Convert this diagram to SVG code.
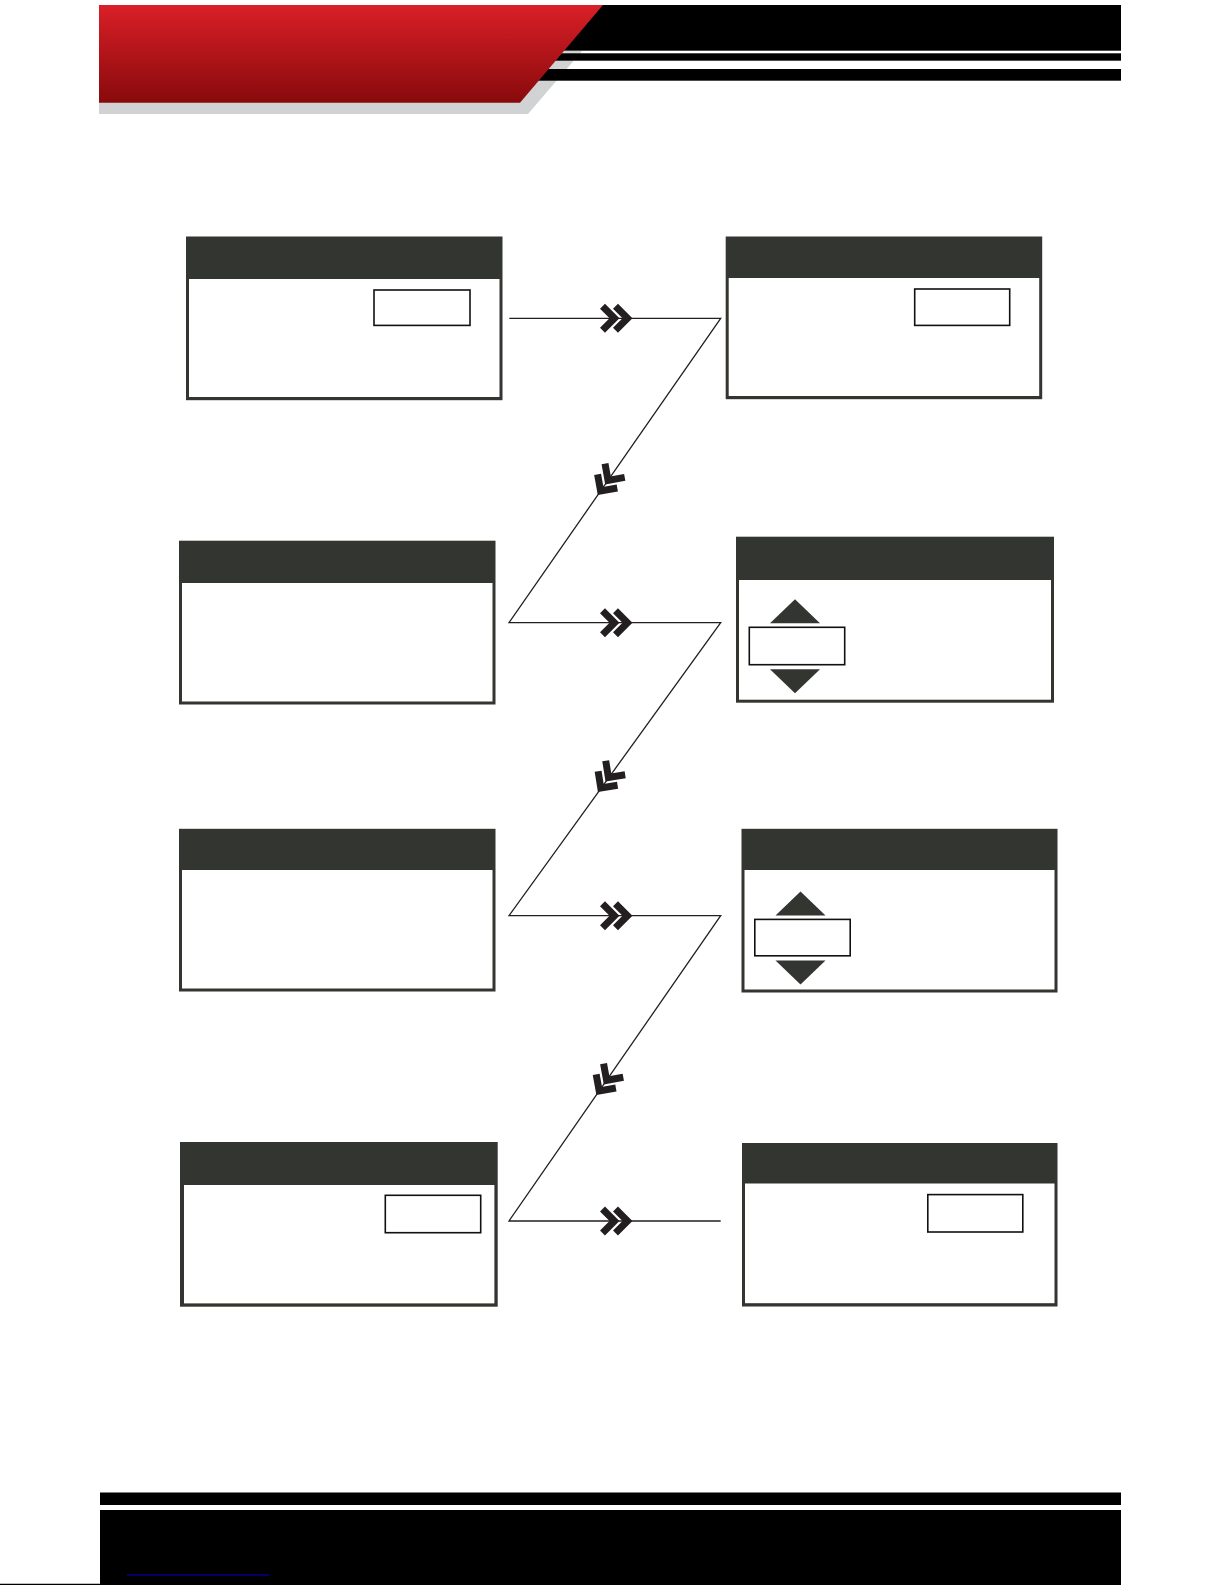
<svg xmlns="http://www.w3.org/2000/svg" xmlns:xlink="http://www.w3.org/1999/xlink" width="1225" height="1585" viewBox="0 0 1225 1585">
<defs>
<linearGradient id="redGrad" x1="0" y1="0" x2="0" y2="1">
<stop offset="0" stop-color="#da1f27"/>
<stop offset="1" stop-color="#880a0c"/>
</linearGradient>
<path id="chev" d="M-12,-12 L0,0 L-12,12" fill="none" stroke="#231f20" stroke-width="7" stroke-linejoin="miter" stroke-miterlimit="10"/>
<g id="dbl"><use xlink:href="#chev" href="#chev"/><use xlink:href="#chev" href="#chev" x="-13"/></g>
<path id="tri" d="M-25,0 L0,-24 L25,0 Z"/>
</defs>
<style>
.frame{fill:#323530}
.body{fill:#ffffff}
.field{fill:#ffffff;stroke:#111111;stroke-width:1.6}
.tri{fill:#323530}
.link{fill:none;stroke:#231f20;stroke-width:1.3}
</style>
<rect width="1225" height="1585" fill="#ffffff"/>

<g id="header">
<polygon points="99,51 582,51 528,114 99,114" fill="#d1d2d4"/>
<rect x="540" y="5" width="581" height="45.7" fill="#000000"/>
<rect x="540" y="53.3" width="581" height="7.4" fill="#000000"/>
<rect x="530" y="69" width="591" height="11.7" fill="#000000"/>
<polygon points="99,5 603,5 520,102.7 99,102.7" fill="url(#redGrad)"/>
</g>

<g id="footer">
<rect x="100" y="1492.5" width="1021" height="12.5" fill="#000000"/>
<rect x="100" y="1510" width="1021" height="75" fill="#000000"/>
<line x1="127" y1="1575" x2="269" y2="1575" stroke="#0000cc" stroke-width="1.2"/>
<line x1="0" y1="1584.3" x2="100" y2="1584.3" stroke="#000000" stroke-width="1.3"/>
</g>

<g id="nodeA">
<rect class="frame" x="186" y="236.5" width="316.5" height="163.7"/>
<rect class="body" x="189" y="279" width="310.5" height="118"/>
<rect class="field" x="374" y="290" width="96" height="35.4"/>
</g>

<g id="nodeB">
<rect class="frame" x="725.7" y="236.5" width="316.5" height="162.7"/>
<rect class="body" x="728.7" y="278" width="310.5" height="118"/>
<rect class="field" x="914.7" y="289" width="95" height="36.4"/>
</g>

<g id="nodeC">
<rect class="frame" x="179" y="540.7" width="316.5" height="163.8"/>
<rect class="body" x="182" y="583" width="310.5" height="118.5"/>
</g>

<g id="nodeD">
<rect class="frame" x="736" y="536.7" width="318" height="166"/>
<rect class="body" x="739" y="580" width="312" height="119.7"/>
<use xlink:href="#tri" href="#tri" class="tri" x="795" y="623.3"/>
<rect class="field" x="749.3" y="627.3" width="95.4" height="37.4"/>
<use xlink:href="#tri" href="#tri" class="tri" transform="translate(795,669.3) scale(1,-1)"/>
</g>

<g id="nodeE">
<rect class="frame" x="179" y="828.8" width="316.5" height="162.7"/>
<rect class="body" x="182" y="870" width="310.5" height="118.5"/>
</g>

<g id="nodeF">
<rect class="frame" x="741.5" y="828.8" width="316" height="163.7"/>
<rect class="body" x="744.5" y="870" width="310" height="119.5"/>
<use xlink:href="#tri" href="#tri" class="tri" x="800.5" y="915.4"/>
<rect class="field" x="754.8" y="919.4" width="95.4" height="36.4"/>
<use xlink:href="#tri" href="#tri" class="tri" transform="translate(800.5,960.4) scale(1,-1)"/>
</g>

<g id="nodeG">
<rect class="frame" x="180" y="1142" width="317.7" height="164.7"/>
<rect class="body" x="184" y="1185" width="310.4" height="118.4"/>
<rect class="field" x="385.3" y="1195.3" width="95.4" height="37.4"/>
</g>

<g id="nodeH">
<rect class="frame" x="742" y="1143" width="315.5" height="163.5"/>
<rect class="body" x="745" y="1183.5" width="309.5" height="119.7"/>
<rect class="field" x="927.8" y="1194.6" width="95" height="37.4"/>
</g>

<g id="connectors">
<polyline class="link" points="509.3,318.3 720.7,318.3 509,622.7 720.7,622.7 509,915.7 720.7,915.7 509,1221 720.7,1221"/>
<use xlink:href="#dbl" href="#dbl" x="627.5" y="318.3"/>
<use xlink:href="#dbl" href="#dbl" x="627.5" y="622.7"/>
<use xlink:href="#dbl" href="#dbl" x="627.5" y="915.7"/>
<use xlink:href="#dbl" href="#dbl" x="627.5" y="1221"/>
<use xlink:href="#dbl" href="#dbl" transform="translate(600.6,491) rotate(124.8)"/>
<use xlink:href="#dbl" href="#dbl" transform="translate(600.8,788) rotate(125.85)"/>
<use xlink:href="#dbl" href="#dbl" transform="translate(599.2,1091) rotate(124.7)"/>
</g>
</svg>
